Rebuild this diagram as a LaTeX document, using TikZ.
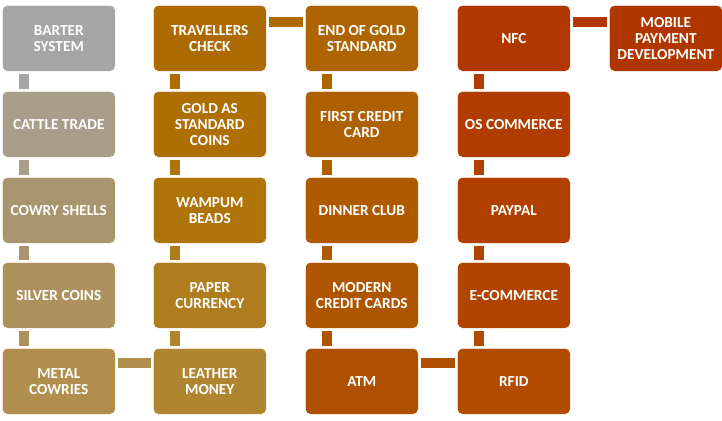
\documentclass[tikz,border=0pt]{standalone}
\usepackage{fontspec}
\setmainfont{Carlito}
\usepackage{tikz}

\definecolor{cA}{HTML}{A5A5A5}
\definecolor{cB}{HTML}{A89E8A}
\definecolor{cC}{HTML}{A99670}
\definecolor{cD}{HTML}{AE925E}
\definecolor{cE}{HTML}{B08E4C}
\definecolor{cF}{HTML}{B0852F}
\definecolor{cG}{HTML}{AF7D1E}
\definecolor{cH}{HTML}{AE7409}
\definecolor{cI}{HTML}{AE6E02}
\definecolor{cJ}{HTML}{AD6A00}
\definecolor{cK}{HTML}{AE6400}
\definecolor{cL}{HTML}{AE6000}
\definecolor{cM}{HTML}{AF5A00}
\definecolor{cN}{HTML}{AE5500}
\definecolor{cO}{HTML}{AE5000}
\definecolor{cP}{HTML}{B04B00}
\definecolor{cQ}{HTML}{B04400}
\definecolor{cR}{HTML}{B03F00}
\definecolor{cS}{HTML}{B03C00}
\definecolor{cT}{HTML}{B03800}
\definecolor{cU}{HTML}{B03600}

\begin{document}
\begin{tikzpicture}[x = 1pt, y = -1pt,
	stage/.style = {draw = white, line width = 0.6pt, rounded corners = 5pt,
		minimum width = 113pt, minimum height = 66pt, inner sep = 0pt,
		anchor = north west, align = center, text = white,
		font = \bfseries\fontsize{15.3}{16}\selectfont},
	link/.style = {line width = 10pt}]

		\useasboundingbox (0, 0) rectangle (722, 420);

		% first column, going down
		\node[stage, fill = cA] (barter) at (2, 5) {BARTER\\SYSTEM};
		\node[stage, fill = cB] (cattle) at (2, 91) {CATTLE TRADE};
		\node[stage, fill = cC] (cowry) at (2, 177) {COWRY SHELLS};
		\node[stage, fill = cD] (silver) at (2, 262) {SILVER COINS};
		\node[stage, fill = cE] (metal) at (2, 348) {METAL\\COWRIES};

		% second column, going up
		\node[stage, fill = cF] (leather) at (153, 348) {LEATHER\\MONEY};
		\node[stage, fill = cG] (paper) at (153, 262) {PAPER\\CURRENCY};
		\node[stage, fill = cH] (wampum) at (153, 177) {WAMPUM\\BEADS};
		\node[stage, fill = cI] (goldstd) at (153, 91) {GOLD AS\\STANDARD\\COINS};
		\node[stage, fill = cJ] (travel) at (153, 5) {TRAVELLERS\\CHECK};

		% third column, going down
		\node[stage, fill = cK] (endgold) at (305, 5) {END OF GOLD\\STANDARD};
		\node[stage, fill = cL] (firstcc) at (305, 91) {FIRST CREDIT\\CARD};
		\node[stage, fill = cM] (diner) at (305, 177) {DINNER CLUB};
		\node[stage, fill = cN] (modern) at (305, 262) {MODERN\\CREDIT CARDS};
		\node[stage, fill = cO] (atm) at (305, 348) {ATM};

		% fourth column, going up
		\node[stage, fill = cP] (rfid) at (457, 348) {RFID};
		\node[stage, fill = cQ] (ecom) at (457, 262) {E-COMMERCE};
		\node[stage, fill = cR] (paypal) at (457, 177) {PAYPAL};
		\node[stage, fill = cS] (oscom) at (457, 91) {OS COMMERCE};
		\node[stage, fill = cT] (nfc) at (457, 5) {NFC};

		\node[stage, fill = cU] (mobile) at (609, 5) {MOBILE\\PAYMENT\\DEVELOPMENT};

		% bars
		\draw[link, cA] ([xshift = 22pt, yshift = -2pt]barter.south west) -- ([xshift = 22pt, yshift = 2pt]cattle.north west);
		\draw[link, cB] ([xshift = 22pt, yshift = -2pt]cattle.south west) -- ([xshift = 22pt, yshift = 2pt]cowry.north west);
		\draw[link, cC] ([xshift = 22pt, yshift = -2pt]cowry.south west) -- ([xshift = 22pt, yshift = 2pt]silver.north west);
		\draw[link, cD] ([xshift = 22pt, yshift = -2pt]silver.south west) -- ([xshift = 22pt, yshift = 2pt]metal.north west);
		\draw[link, cE] ([xshift = 2pt, yshift = -15pt]metal.north east) -- ([xshift = -2pt, yshift = -15pt]leather.north west);

		\draw[link, cF] ([xshift = 22pt, yshift = 2pt]leather.north west) -- ([xshift = 22pt, yshift = -2pt]paper.south west);
		\draw[link, cG] ([xshift = 22pt, yshift = 2pt]paper.north west) -- ([xshift = 22pt, yshift = -2pt]wampum.south west);
		\draw[link, cH] ([xshift = 22pt, yshift = 2pt]wampum.north west) -- ([xshift = 22pt, yshift = -2pt]goldstd.south west);
		\draw[link, cI] ([xshift = 22pt, yshift = 2pt]goldstd.north west) -- ([xshift = 22pt, yshift = -2pt]travel.south west);
		\draw[link, cJ] ([xshift = 2pt, yshift = -17pt]travel.north east) -- ([xshift = -2pt, yshift = -17pt]endgold.north west);

		\draw[link, cK] ([xshift = 22pt, yshift = -2pt]endgold.south west) -- ([xshift = 22pt, yshift = 2pt]firstcc.north west);
		\draw[link, cL] ([xshift = 22pt, yshift = -2pt]firstcc.south west) -- ([xshift = 22pt, yshift = 2pt]diner.north west);
		\draw[link, cM] ([xshift = 22pt, yshift = -2pt]diner.south west) -- ([xshift = 22pt, yshift = 2pt]modern.north west);
		\draw[link, cN] ([xshift = 22pt, yshift = -2pt]modern.south west) -- ([xshift = 22pt, yshift = 2pt]atm.north west);
		\draw[link, cO] ([xshift = 2pt, yshift = -15pt]atm.north east) -- ([xshift = -2pt, yshift = -15pt]rfid.north west);

		\draw[link, cP] ([xshift = 22pt, yshift = 2pt]rfid.north west) -- ([xshift = 22pt, yshift = -2pt]ecom.south west);
		\draw[link, cQ] ([xshift = 22pt, yshift = 2pt]ecom.north west) -- ([xshift = 22pt, yshift = -2pt]paypal.south west);
		\draw[link, cR] ([xshift = 22pt, yshift = 2pt]paypal.north west) -- ([xshift = 22pt, yshift = -2pt]oscom.south west);
		\draw[link, cS] ([xshift = 22pt, yshift = 2pt]oscom.north west) -- ([xshift = 22pt, yshift = -2pt]nfc.south west);
		\draw[link, cT] ([xshift = 2pt, yshift = -17pt]nfc.north east) -- ([xshift = -2pt, yshift = -17pt]mobile.north west);

	\end{tikzpicture}
\end{document}
